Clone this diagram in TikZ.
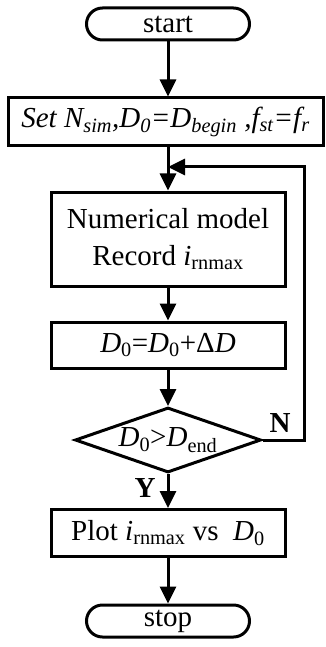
\documentclass[tikz,border=0pt]{standalone}
\usepackage{fontspec}
\setmainfont{Liberation Serif}
\usetikzlibrary{arrows.meta,shapes.geometric}

\begin{document}
\begin{tikzpicture}[x=1pt,y=1pt,line width=3pt,
  font=\fontsize{29}{37}\selectfont,
  box/.style={draw,rectangle,minimum width=234pt,inner sep=0pt,align=center},
  term/.style={draw,rectangle,rounded corners=16pt,minimum width=163pt,minimum height=32pt,inner sep=0pt},
  cond/.style={draw,diamond,aspect=2.86,minimum width=186pt,minimum height=65pt,inner sep=0pt},
  flow/.style={-{Triangle[length=17pt,width=16pt]}}]
\def\xc{168}
\useasboundingbox (0,0) rectangle (325,-647);

% Blocks
\node[term] (start) at (\xc,-24) {start};
\node[box,minimum width=315pt,minimum height=48pt] (set) at (165.5,-122)
  {\itshape Set N\textsubscript{sim},D\textsubscript{0}=D\textsubscript{begin} ,f\textsubscript{st}=f\textsubscript{r}};
\node[box,minimum height=94pt] (num) at (\xc,-239)
  {Numerical model\\Record \textit{i}\textsubscript{rnmax}};
\node[box,minimum height=46pt] (inc) at (\xc,-345)
  {\textit{D}\textsubscript{0}=\textit{D}\textsubscript{0}+Δ\textit{D}};
\node[cond] (cond) at (\xc,-440)
  {\textit{D}\textsubscript{0}>\textit{D}\textsubscript{end}};
\node[box,minimum height=47pt] (plot) at (\xc,-533)
  {Plot \textit{i}\textsubscript{rnmax} vs~ \textit{D}\textsubscript{0}};
\node[term] (stop) at (\xc,-621) {stop};

% Connectors
\draw[flow] (start) -- (start |- set.north);
\draw[flow] (set.south -| num) -- (num);
\draw[flow] (num) -- (inc);
\draw[flow] (inc) -- (cond);
\draw[flow] (cond) -- (plot);
\draw[flow] (plot) -- (stop);

% Loop back
\coordinate (back) at (304,-167);
\coordinate (join) at (\xc,-167);
\draw[flow] (cond.east) -| (back) -- (join);
\node[font=\fontsize{29}{32}\bfseries] (no) at (280,-423) {N};
\node[font=\fontsize{29}{32}\bfseries] (yes) at (145,-488) {Y};
\end{tikzpicture}
\end{document}
